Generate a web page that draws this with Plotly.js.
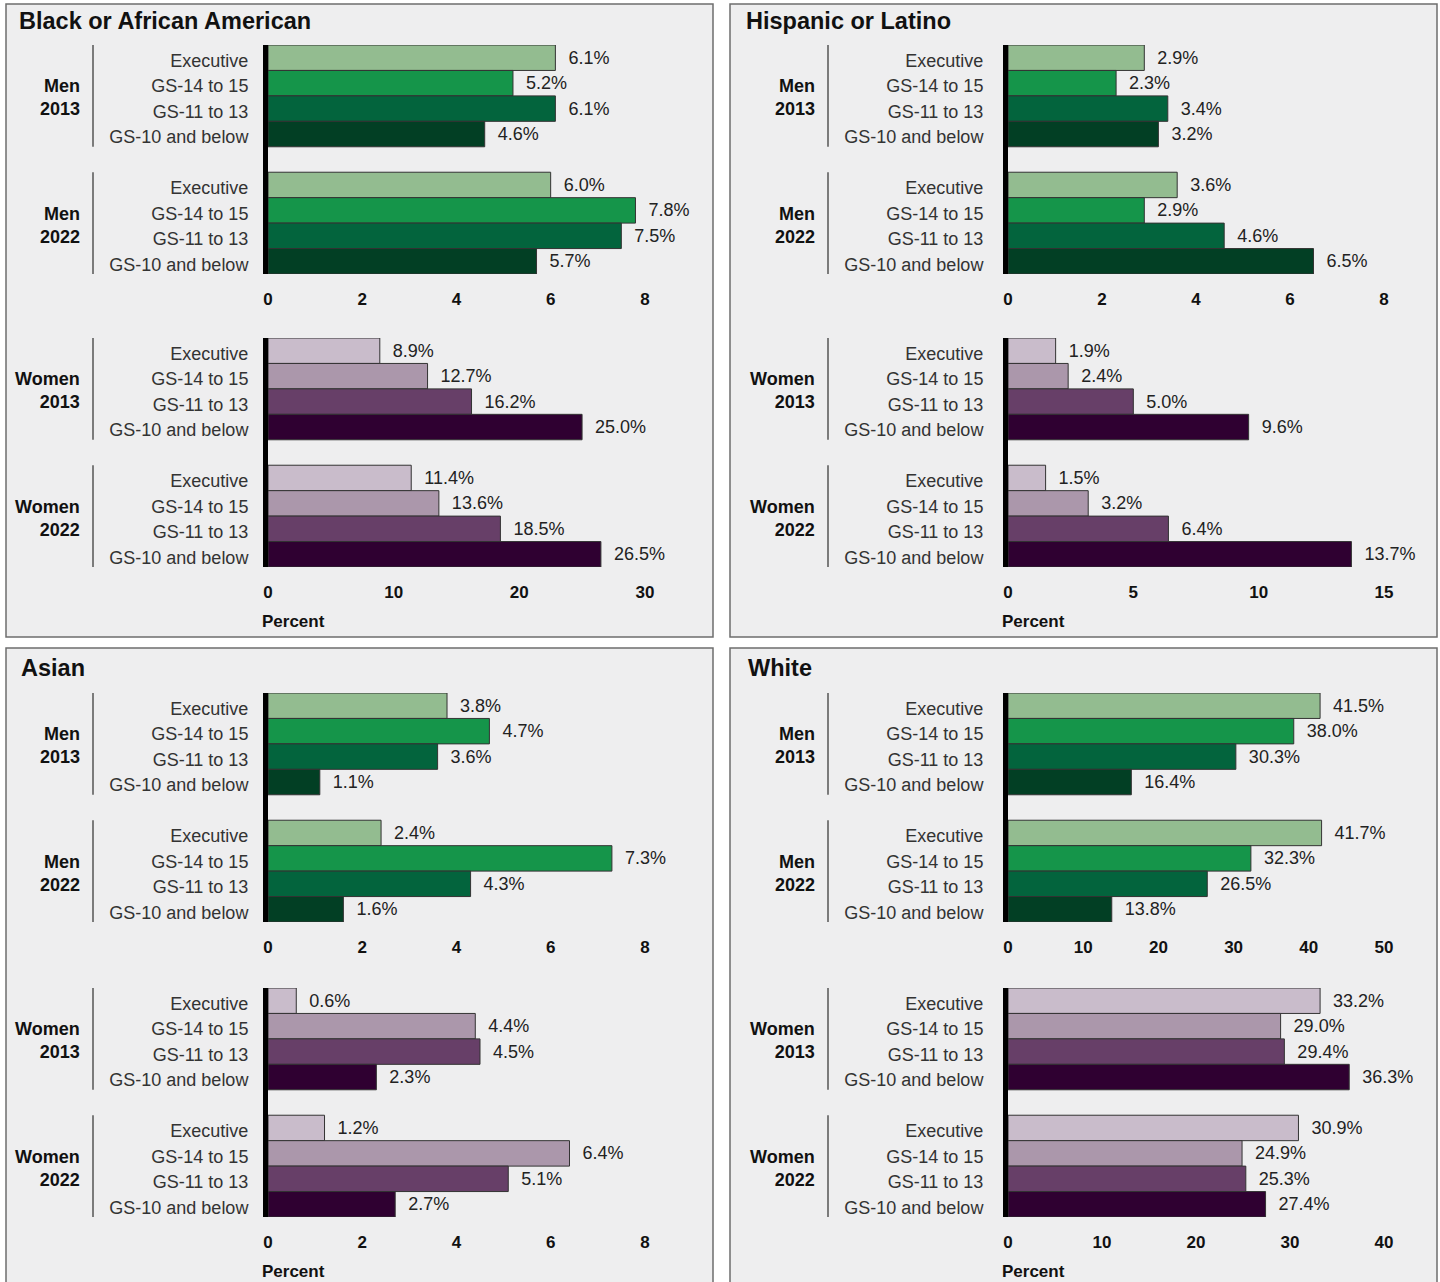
<!DOCTYPE html>
<html>
<head>
<meta charset="utf-8">
<script src="https://cdn.plot.ly/plotly-3.0.1.min.js"></script>
<style>html,body{margin:0;padding:0;background:#fff;}#chart{width:1440px;height:1282px;}</style>
</head>
<body>
<div id="chart"></div>
<script>
// ---- Data ----
const levels = ['Executive', 'GS-14 to 15', 'GS-11 to 13', 'GS-10 and below'];
const years = ['2013', '2022'];
const sexes = ['Men', 'Women'];
const panelTitles = ['Black or African American', 'Hispanic or Latino', 'Asian', 'White'];

const blackMen2013 = [6.1, 5.2, 6.1, 4.6];
const blackMen2022 = [6.0, 7.8, 7.5, 5.7];
const blackWomen2013 = [8.9, 12.7, 16.2, 25.0];
const blackWomen2022 = [11.4, 13.6, 18.5, 26.5];

const hispanicMen2013 = [2.9, 2.3, 3.4, 3.2];
const hispanicMen2022 = [3.6, 2.9, 4.6, 6.5];
const hispanicWomen2013 = [1.9, 2.4, 5.0, 9.6];
const hispanicWomen2022 = [1.5, 3.2, 6.4, 13.7];

const asianMen2013 = [3.8, 4.7, 3.6, 1.1];
const asianMen2022 = [2.4, 7.3, 4.3, 1.6];
const asianWomen2013 = [0.6, 4.4, 4.5, 2.3];
const asianWomen2022 = [1.2, 6.4, 5.1, 2.7];

const whiteMen2013 = [41.5, 38.0, 30.3, 16.4];
const whiteMen2022 = [41.7, 32.3, 26.5, 13.8];
const whiteWomen2013 = [33.2, 29.0, 29.4, 36.3];
const whiteWomen2022 = [30.9, 24.9, 25.3, 27.4];

// axis tick maxima / steps  [men, women] per panel
const tickMax = [[8, 30], [8, 15], [8, 8], [50, 40]];
const tickStep = [[2, 10], [2, 5], [2, 2], [10, 10]];

const panelValues = [
  [[blackMen2013, blackMen2022], [blackWomen2013, blackWomen2022]],
  [[hispanicMen2013, hispanicMen2022], [hispanicWomen2013, hispanicWomen2022]],
  [[asianMen2013, asianMen2022], [asianWomen2013, asianWomen2022]],
  [[whiteMen2013, whiteMen2022], [whiteWomen2013, whiteWomen2022]]
];

const menColors = ['#93bc90', '#15954a', '#03643d', '#023f24'];
const womenColors = ['#c9bccb', '#ab97ab', '#673f68', '#2f0031'];

// ---- Layout geometry (pixels) ----
const W = 1440, H = 1282;
const FONT = 'Liberation Sans, Arial, Helvetica, sans-serif';
const px = v => v / W;
const py = v => 1 - v / H;

const geo = [
  {rect: [6, 4, 713, 637], titleX: 17, titleY: 21, ax0: 268, ax1: 692, groupX: 82, sepX: 93, standoff: 11, yMen: [45, 274], yWomen: [338, 567], pctX: 260, pctY: 621},
  {rect: [730, 4, 1437, 637], titleX: 744, titleY: 21, ax0: 1008, ax1: 1431, groupX: 817, sepX: 828, standoff: 16, yMen: [45, 274], yWomen: [338, 567], pctX: 1000, pctY: 621},
  {rect: [6, 648, 713, 1295], titleX: 19, titleY: 668, ax0: 268, ax1: 692, groupX: 82, sepX: 93, standoff: 11, yMen: [693, 922], yWomen: [988, 1217], pctX: 260, pctY: 1271},
  {rect: [730, 648, 1437, 1295], titleX: 746, titleY: 668, ax0: 1008, ax1: 1431, groupX: 817, sepX: 828, standoff: 16, yMen: [693, 922], yWomen: [988, 1217], pctX: 1000, pctY: 1271}
];

const traces = [];
const layout = {
  width: W, height: H,
  margin: {l: 0, r: 0, t: 0, b: 0},
  paper_bgcolor: '#ffffff',
  plot_bgcolor: 'rgba(0,0,0,0)',
  showlegend: false,
  barmode: 'overlay',
  bargap: 0,
  font: {family: FONT, color: '#222'},
  shapes: [],
  annotations: []
};

geo.forEach((g, p) => {
  layout.shapes.push({
    type: 'rect', xref: 'paper', yref: 'paper', layer: 'below',
    x0: px(g.rect[0]), x1: px(g.rect[2]), y0: py(g.rect[1]), y1: py(g.rect[3]),
    fillcolor: '#eeeeef', line: {color: '#6e6e6e', width: 1.5}
  });
  layout.annotations.push({
    xref: 'paper', yref: 'paper', x: px(g.titleX), y: py(g.titleY),
    xanchor: 'left', yanchor: 'middle', showarrow: false,
    text: panelTitles[p], font: {size: 23.5, weight: 700, color: '#111'}
  });
  sexes.forEach((sex, s) => {
    const k = p * 2 + s + 1;
    const suf = k > 1 ? String(k) : '';
    const yd = s === 0 ? g.yMen : g.yWomen;
    const colors = s === 0 ? menColors : womenColors;
    years.forEach((yr, yi) => {
      traces.push({
        type: 'bar', orientation: 'h',
        x: panelValues[p][s][yi],
        y: levels.map((_, i) => yi * 5 + i),
        xaxis: 'x' + suf, yaxis: 'y' + suf,
        marker: {color: colors, line: {color: '#333', width: 1}},
        texttemplate: '\u00a0\u00a0%{x:.1f}%',
        textposition: 'outside',
        constraintext: 'none',
        cliponaxis: false,
        textfont: {size: 18, color: '#222', family: FONT},
        hoverinfo: 'skip'
      });
      layout.annotations.push({
        xref: 'paper', yref: 'y' + suf, x: px(g.groupX), y: yi * 5 + 1.5,
        xanchor: 'right', yanchor: 'middle', align: 'right', showarrow: false,
        yshift: -2,
        text: sex + '<br>' + yr, font: {size: 18, weight: 700, color: '#111'}
      });
      layout.shapes.push({
        type: 'line', xref: 'paper', yref: 'y' + suf,
        x0: px(g.sepX), x1: px(g.sepX), y0: yi * 5 - 0.5, y1: yi * 5 + 3.5,
        line: {color: '#555', width: 1.5}
      });
    });
    layout['xaxis' + suf] = {
      domain: [px(g.ax0), px(g.ax1)],
      range: [0, tickMax[p][s] * 9 / 8],
      tick0: 0, dtick: tickStep[p][s],
      showgrid: false, zeroline: false, showline: false, ticks: '',
      ticklabelstandoff: 13,
      tickfont: {size: 17, weight: 700, color: '#111'},
      anchor: 'y' + suf, fixedrange: true
    };
    layout['yaxis' + suf] = {
      domain: [py(yd[1]), py(yd[0])],
      range: [8.5, -0.5],
      tickvals: [0, 1, 2, 3, 5, 6, 7, 8],
      ticktext: levels.concat(levels),
      showgrid: false, zeroline: false,
      showline: true, linewidth: 5, linecolor: '#000',
      ticks: '', ticklabelstandoff: g.standoff,
      ticklabelshift: -3,
      tickfont: {size: 18, color: '#333'},
      anchor: 'x' + suf, fixedrange: true
    };
    if (s === 1) {
      layout.annotations.push({
        xref: 'paper', yref: 'paper', x: px(g.pctX), y: py(g.pctY),
        xanchor: 'left', yanchor: 'middle', showarrow: false,
        text: 'Percent', font: {size: 17, weight: 700, color: '#111'}
      });
    }
  });
});

Plotly.newPlot('chart', traces, layout, {displayModeBar: false, staticPlot: true});
</script>
</body>
</html>
